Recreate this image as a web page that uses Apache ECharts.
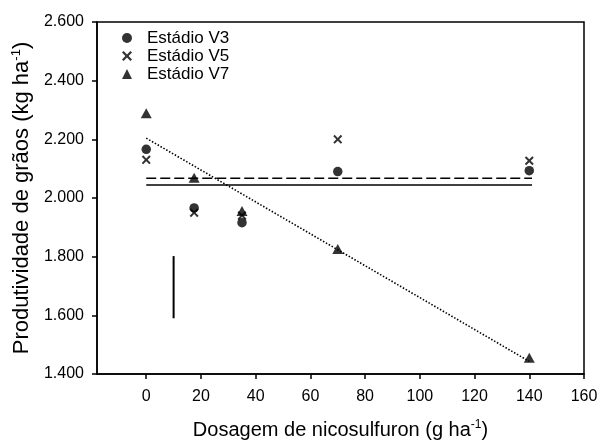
<!DOCTYPE html>
<html><head><meta charset="utf-8">
<script src="https://cdn.jsdelivr.net/npm/echarts@6/dist/echarts.min.js"></script>
<style>html,body{margin:0;padding:0;background:#fff}#c{width:609px;height:442px}</style>
</head><body><div id="c"></div>
<script>
var doses = [0, 17.5, 35, 70, 140];
var v3 = [2166, 1966, 1916, 2090, 2093];
var v5 = [2130, 1950, 1940, 2200, 2127];
var v7 = [2289, 2069, 1956, 1826, 1455];
var fitV3X = [0, 141], fitV3Y = [2044, 2044];
var fitV5X = [0, 141], fitV5Y = [2067, 2067];
var fitV7X = [0, 140], fitV7Y = [2204, 1443];
var barX = [10, 10], barY = [1590, 1802];
var xTicks = [0, 20, 40, 60, 80, 100, 120, 140, 160];
var seriesNames = ['Estádio V3', 'Estádio V5', 'Estádio V7'];

function pairs(xs, ys) { return xs.map(function (x, i) { return [x, ys[i]]; }); }
var crossPath = 'path://M0,1.6L1.6,0L5,3.4L8.4,0L10,1.6L6.6,5L10,8.4L8.4,10L5,6.6L1.6,10L0,8.4L3.4,5Z';
var font = 'Arial, "Liberation Sans", sans-serif';

var chart = echarts.init(document.getElementById('c'), null, {renderer: 'canvas'});
chart.setOption({
  animation: false,
  backgroundColor: '#fff',
  grid: {left: 97, right: 25, top: 22, bottom: 68, show: true, borderColor: '#000', borderWidth: 1.5, outerBoundsMode: 'none', containLabel: false},
  legend: {
    orient: 'vertical', left: 117, top: 24, itemGap: 0, itemWidth: 10, itemHeight: 10,
    textStyle: {fontFamily: font, fontSize: 17, lineHeight: 18, color: '#000', padding: [0, 0, 0, 10]},
    data: seriesNames
  },
  xAxis: {
    type: 'value', min: -18, max: 160,
    splitLine: {show: false},
    axisLine: {show: true, onZero: false, lineStyle: {color: '#000', width: 1.5}},
    axisTick: {show: true, length: 5, customValues: xTicks, lineStyle: {color: '#000', width: 1.5}},
    axisLabel: {customValues: xTicks, color: '#000', fontFamily: font, fontSize: 16, margin: 15},
    name: '{b|Dosagem de nicosulfuron (g ha}{s|-1}{b|)}',
    nameLocation: 'middle', nameGap: 45,
    nameTextStyle: {rich: {
      b: {fontFamily: font, fontSize: 20, color: '#000', lineHeight: 22},
      s: {fontFamily: font, fontSize: 12, color: '#000', verticalAlign: 'top', lineHeight: 22, padding: [0, 0, 8, 0]}
    }}
  },
  yAxis: {
    type: 'value', min: 1400, max: 2600, interval: 200,
    splitLine: {show: false},
    axisLine: {show: true, onZero: false, lineStyle: {color: '#000', width: 1.5}},
    axisTick: {show: true, length: 5, lineStyle: {color: '#000', width: 1.5}},
    axisLabel: {color: '#000', fontFamily: font, fontSize: 16, margin: 13,
      formatter: function (v) { var k = Math.floor(v / 1000), r = String(v % 1000); while (r.length < 3) r = '0' + r; return k + '.' + r; }},
    name: '{b|Produtividade de grãos (kg ha}{s|-1}{b|)}',
    nameLocation: 'middle', nameGap: 63,
    nameTextStyle: {rich: {
      b: {fontFamily: font, fontSize: 22, color: '#000', lineHeight: 24},
      s: {fontFamily: font, fontSize: 13, color: '#000', verticalAlign: 'top', lineHeight: 24, padding: [0, 0, 9, 0]}
    }}
  },
  series: [
    {name: seriesNames[0], type: 'scatter', symbol: 'circle', symbolSize: 9.5, itemStyle: {color: '#000'}, data: pairs(doses, v3), z: 5},
    {name: seriesNames[1], type: 'scatter', symbol: crossPath, symbolSize: 9, itemStyle: {color: '#000'}, data: pairs(doses, v5), z: 5},
    {name: seriesNames[2], type: 'scatter', symbol: 'triangle', symbolSize: [11, 10], itemStyle: {color: '#000'}, data: pairs(doses, v7), z: 5},
    {type: 'line', showSymbol: false, symbol: 'none', data: pairs(fitV3X, fitV3Y), lineStyle: {color: '#000', width: 1.5, type: 'solid'}},
    {type: 'line', showSymbol: false, symbol: 'none', data: pairs(fitV5X, fitV5Y), lineStyle: {color: '#000', width: 1.5, type: [10, 4]}},
    {type: 'line', showSymbol: false, symbol: 'none', data: pairs(fitV7X, fitV7Y), lineStyle: {color: '#000', width: 1.6, type: [1.5, 1.8]}},
    {type: 'line', showSymbol: false, symbol: 'none', data: pairs(barX, barY), lineStyle: {color: '#000', width: 2}}
  ]
});
</script></body></html>
